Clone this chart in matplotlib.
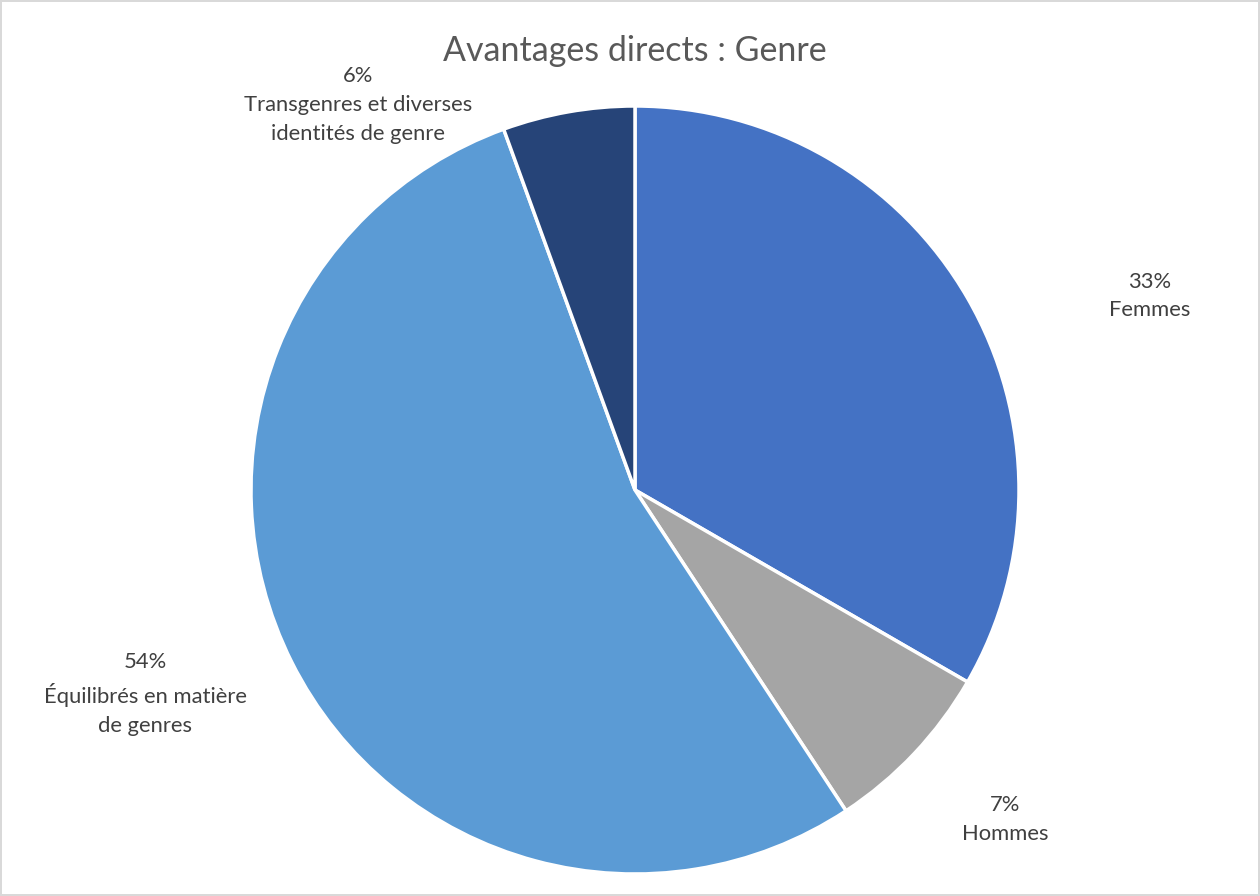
import matplotlib.pyplot as plt

plt.rcParams['font.family'] = ['Lato', 'DejaVu Sans']

categories = ["Femmes", "Hommes", "Équilibrés en matière\nde genres",
              "Transgenres et diverses\nidentités de genre"]
counts = [18, 4, 29, 3]
colors = ["#4472C4", "#A5A5A5", "#5B9BD5", "#264478"]

fig = plt.figure(figsize=(12.6, 8.96), dpi=100)
fig.patch.set_edgecolor("#D9D9D9")
fig.patch.set_linewidth(1.5)

cx, cy, r = 635, 490, 384
ax = fig.add_axes([(cx - r) / 1260, (896 - cy - r) / 896, 2 * r / 1260, 2 * r / 896])
ax.pie(counts, colors=colors, startangle=90, counterclock=False,
       wedgeprops=dict(edgecolor="white", linewidth=2.5))
ax.set_xlim(-1, 1)
ax.set_ylim(-1, 1)
ax.set_aspect("equal")
ax.axis("off")

total = sum(counts)
label_pos = [(1.341, 0.505), (0.964, -0.859), (-1.276, -0.531), (-0.721, 1.003)]
for cat, n, (x, y) in zip(categories, counts, label_pos):
    ax.text(x, y, f"{round(100 * n / total)}%\n{cat}", ha="center", va="center",
            fontsize=15.8, color="#404040", linespacing=1.55, clip_on=False)

fig.text(635 / 1260, 1 - 51 / 896, "Avantages directs : Genre", ha="center", va="center",
         fontsize=24.5, color="#595959")

fig.savefig("out.png", dpi=100)
